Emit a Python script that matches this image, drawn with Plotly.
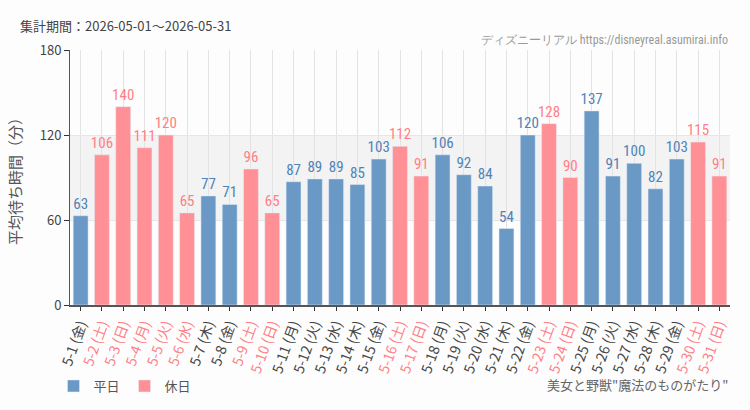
import plotly.graph_objects as go

dates = [f"5-{d}" for d in range(1, 32)]
weekdays = ["金","土","日","月","火","水","木","金","土","日","月","火","水","木","金","土","日",
            "月","火","水","木","金","土","日","月","火","水","木","金","土","日"]
values = [63,106,140,111,120,65,77,71,96,65,87,89,89,85,103,112,91,106,92,84,54,120,128,90,137,91,100,82,103,115,91]
holiday = [0,1,1,1,1,1,0,0,1,1,0,0,0,0,0,1,1,0,0,0,0,0,1,1,0,0,0,0,0,1,1]

BLUE = "#6a99c6"
PINK = "#ff9196"
BLUE_T = "#4f82b8"
PINK_T = "#ff7f86"

cats = [f"{d} ({w})" for d, w in zip(dates, weekdays)]
ticktext = [f'<span style="color:{PINK_T}">{c}</span>' if h else f'<span style="color:#444">{c}</span>'
            for c, h in zip(cats, holiday)]

wx = [c for c, h in zip(cats, holiday) if not h]
wy = [v for v, h in zip(values, holiday) if not h]
hx = [c for c, h in zip(cats, holiday) if h]
hy = [v for v, h in zip(values, holiday) if h]

lab_font = "Liberation Sans Narrow, Roboto Condensed, Arial Narrow, sans-serif"

fig = go.Figure()
fig.add_trace(go.Bar(x=wx, y=wy, name="平日", marker_color=BLUE, text=wy, textposition="outside",
                     constraintext="none",
                     textfont=dict(color=BLUE_T, size=15, family=lab_font), cliponaxis=False))
fig.add_trace(go.Bar(x=hx, y=hy, name="休日", marker_color=PINK, text=hy, textposition="outside",
                     constraintext="none",
                     textfont=dict(color=PINK_T, size=15, family=lab_font), cliponaxis=False))

fig.add_shape(type="rect", xref="paper", yref="y", x0=0, x1=1, y0=60, y1=120,
              fillcolor="#f3f3f3", line_width=0, layer="below")

fig.update_layout(
    width=750, height=410,
    margin=dict(l=70, r=20, t=50, b=105),
    paper_bgcolor="#fdfdfd", plot_bgcolor="#fdfdfd",
    barmode="overlay", bargap=0.3,
    font=dict(family="Noto Sans CJK JP, Noto Sans, sans-serif", color="#444"),
    title=dict(text="集計期間：2026-05-01～2026-05-31", x=20/750, xanchor="left",
               y=1-26/410, yanchor="middle", xref="container", yref="container",
               font=dict(size=13, color="#444")),
    legend=dict(orientation="h", x=-0.025, xanchor="left", y=1-386/410, yanchor="middle",
                yref="container", font=dict(size=13, color="#555"), itemwidth=30,
                traceorder="normal"),
    xaxis=dict(type="category", categoryorder="array", categoryarray=cats,
               tickvals=cats, ticktext=ticktext, tickangle=-70, automargin=False,
               tickfont=dict(size=14), showgrid=True, gridcolor="#e3e3e3",
               showline=True, linecolor="#555", linewidth=1.5,
               ticks="outside", ticklen=4, tickcolor="#333", range=[-0.5, 30.5]),
    yaxis=dict(range=[0, 180], tickvals=[0, 60, 120, 180], showgrid=True, gridcolor="#e6e6e6",
               showline=True, linecolor="#555", linewidth=1, ticks="outside", ticklen=5,
               automargin=False,
               tickcolor="#333", tickfont=dict(size=13, color="#444"), zeroline=False,
               title=dict(text="平均待ち時間（分）", font=dict(size=15, color="#555"), standoff=14)),
    annotations=[
        dict(text="ディズニーリアル https://disneyreal.asumirai.info", xref="paper", yref="paper",
             x=1, y=(305-40)/255, xanchor="right", yanchor="middle", showarrow=False,
             font=dict(size=12, color="#999", family=lab_font)),
        dict(text='美女と野獣"魔法のものがたり"', xref="paper", yref="paper",
             x=1, y=(305-384)/255, xanchor="right", yanchor="middle", showarrow=False,
             font=dict(size=13, color="#666")),
    ],
)

fig.write_html("out.html")
